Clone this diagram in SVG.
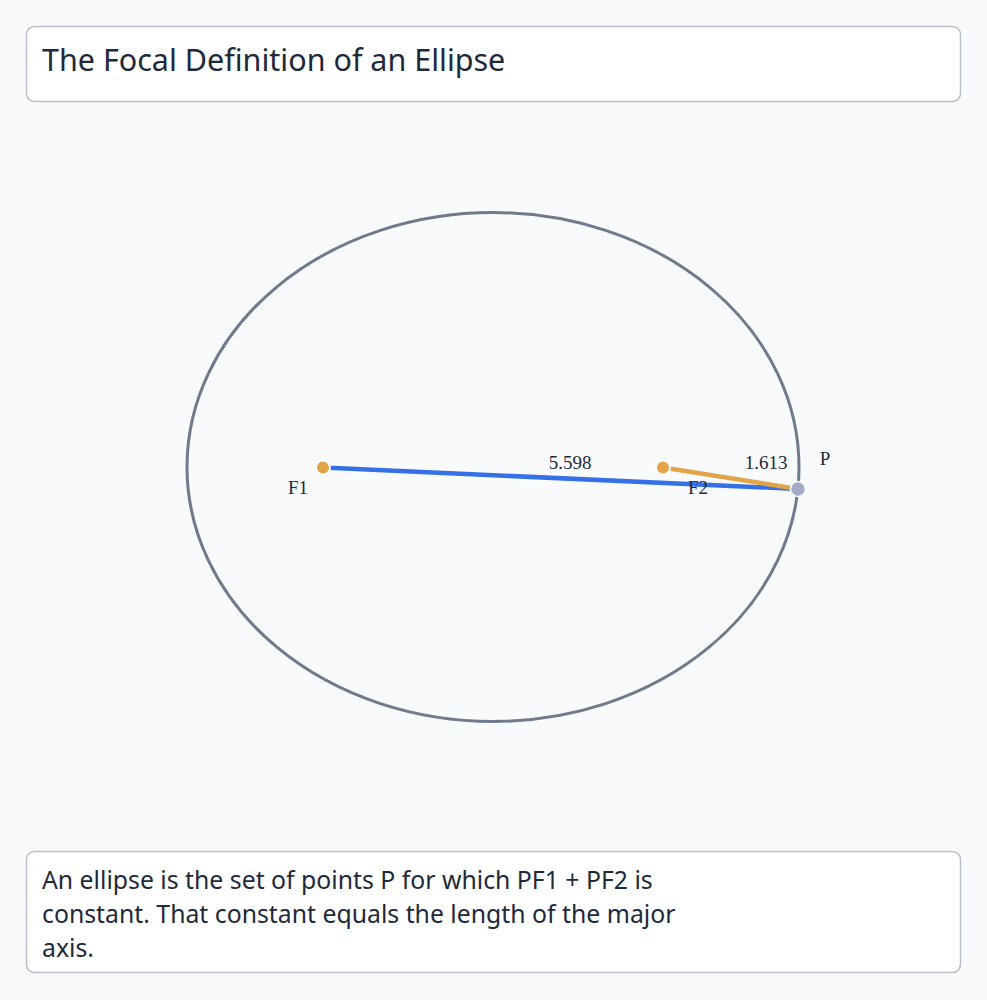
<svg xmlns="http://www.w3.org/2000/svg" width="987" height="1000" viewBox="0 0 987 1000">
<style>
.panel{fill:#ffffff;stroke:#b9bec8;stroke-width:1.5}
.title{font-family:"Noto Sans","Open Sans",sans-serif;font-size:30.5px;fill:#1e293b}
.desc{font-family:"Noto Sans","Open Sans",sans-serif;font-size:24.8px;fill:#1e293b}
.lbl{font-family:"Liberation Serif","DejaVu Serif",serif;font-size:19px;fill:#1e293b}
.focus{fill:#e2a446;stroke:#ffffff;stroke-width:2}
</style>
<rect width="987" height="1000" fill="#f8fafc"/>
<g id="title-panel">
<rect class="panel" x="26.5" y="26.5" width="934" height="75" rx="8"/>
<text class="title" x="42" y="71">The Focal Definition of an Ellipse</text>
</g>
<g id="ellipse">
<ellipse cx="493" cy="467" rx="306" ry="254.5" fill="none" stroke="#6f7a8c" stroke-width="3"/>
</g>
<g id="connectors">
<line x1="323" y1="467.5" x2="798" y2="489" stroke="#3570e6" stroke-width="4.5"/>
<line x1="663" y1="467.5" x2="798" y2="489" stroke="#e2a446" stroke-width="4.5"/>
<text class="lbl" x="570" y="469" text-anchor="middle">5.598</text>
<text class="lbl" x="766" y="469" text-anchor="middle">1.613</text>
</g>
<g id="F1">
<circle class="focus" cx="323" cy="467.5" r="7"/>
<text class="lbl" x="298" y="494" text-anchor="middle">F1</text>
</g>
<g id="F2">
<circle class="focus" cx="663" cy="467.5" r="7"/>
<text class="lbl" x="698" y="494" text-anchor="middle">F2</text>
</g>
<g id="P">
<circle cx="798" cy="489" r="7.5" fill="#a3abc6" stroke="#ffffff" stroke-width="1.5"/>
<text class="lbl" x="825" y="465" text-anchor="middle">P</text>
</g>
<g id="description-panel">
<rect class="panel" x="26.5" y="851.5" width="934" height="121" rx="8"/>
<text class="desc" x="42" y="889">An ellipse is the set of points P for which PF1 + PF2 is</text>
<text class="desc" x="42" y="923">constant. That constant equals the length of the major</text>
<text class="desc" x="42" y="957">axis.</text>
</g>
</svg>
